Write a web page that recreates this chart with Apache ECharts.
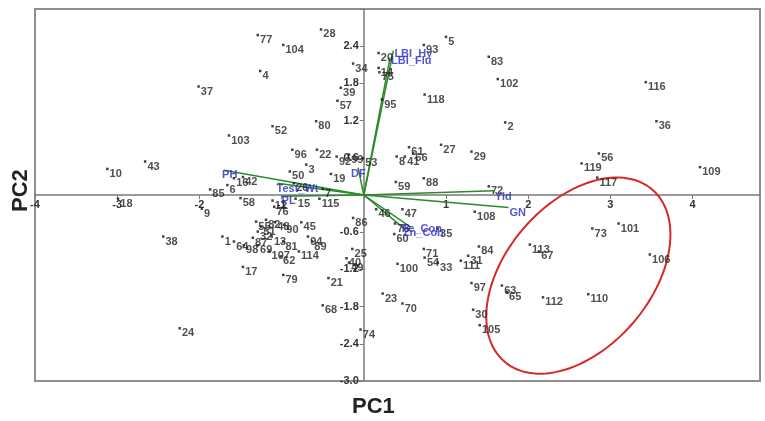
<!DOCTYPE html>
<html>
<head>
<meta charset="utf-8">
<title>PCA biplot</title>
<script src="https://cdn.jsdelivr.net/npm/echarts@6/dist/echarts.min.js"></script>
<style>
html, body { margin: 0; padding: 0; background: #fff; }
#chart { width: 765px; height: 421px; }
</style>
</head>
<body>
<div id="chart"></div>
<script>
// genotype scores
var ids = ['37','77','104','28','4','34','39','57','80','52','20','14','75','95','93','5','83','102','118','2',
    '116','36','10','43','18','9','85','38','103','96','22','92','99','53','3','50','19','16','42','6',
    '26','7','58','15','115','12','76','82','45','86','46','55','51','48','90','32','13','81','94','89',
    '1','64','98','87','69','107','62','114','25','40','49','17','79','21','68','74','23','24','61','66',
    '8','41','27','29','59','88','72','47','108','78','60','35','71','84','31','111','54','33','100','113',
    '67','56','119','117','109','73','101','106','97','63','65','112','70','30','105','110'];
var pc1 = [-2.01,-1.29,-0.98,-0.52,-1.26,-0.13,-0.28,-0.32,-0.58,-1.11,0.18,0.18,0.19,0.22,0.73,1.00,1.52,1.63,0.74,1.72,
    3.43,3.56,-3.12,-2.66,-2.99,-1.97,-1.87,-2.44,-1.64,-0.87,-0.57,-0.33,-0.18,-0.01,-0.70,-0.90,-0.40,-1.58,-1.47,-1.66,
    -0.85,-0.50,-1.50,-0.83,-0.54,-1.11,-1.09,-1.19,-0.76,-0.13,0.15,-1.31,-1.25,-1.08,-0.97,-1.29,-1.12,-0.98,-0.68,-0.63,
    -1.72,-1.58,-1.46,-1.35,-1.29,-1.15,-1.01,-0.79,-0.14,-0.21,-0.18,-1.47,-0.98,-0.43,-0.50,-0.04,0.23,-2.24,0.55,0.60,
    0.40,0.50,0.94,1.31,0.39,0.73,1.52,0.47,1.35,0.38,0.37,0.90,0.73,1.40,1.27,1.18,0.74,0.90,0.41,2.02,
    2.13,2.86,2.65,2.84,4.09,2.78,3.10,3.48,1.31,1.68,1.74,2.18,0.47,1.33,1.41,2.73];
var pc2 = [1.75,2.58,2.42,2.67,2.00,2.12,1.73,1.52,1.19,1.11,2.29,2.05,1.98,1.54,2.42,2.55,2.23,1.87,1.62,1.17,
    1.82,1.19,0.42,0.54,-0.06,-0.22,0.09,-0.67,0.96,0.73,0.73,0.62,0.65,0.59,0.49,0.38,0.34,0.27,0.29,0.16,
    0.19,0.10,-0.05,-0.06,-0.06,-0.09,-0.19,-0.40,-0.44,-0.37,-0.23,-0.43,-0.51,-0.44,-0.48,-0.59,-0.67,-0.75,-0.67,-0.75,
    -0.67,-0.75,-0.81,-0.69,-0.81,-0.91,-0.99,-0.91,-0.87,-1.02,-1.09,-1.16,-1.29,-1.34,-1.78,-2.17,-1.59,-2.15,0.77,0.67,
    0.62,0.62,0.81,0.70,0.21,0.27,0.14,-0.23,-0.27,-0.46,-0.63,-0.54,-0.87,-0.83,-0.98,-1.06,-1.01,-1.09,-1.11,-0.80,
    -0.91,0.67,0.51,0.28,0.45,-0.54,-0.46,-0.96,-1.42,-1.46,-1.57,-1.65,-1.75,-1.85,-2.10,-1.60];

// trait loadings (vector end points)
var traitNames = ['LBI_Hy','LBI_Flu','DF','PH','Test_Wt','PL','Yld','GN','Fe_Con','Zn_Con'];
var traitX = [0.36, 0.32, -0.07, -1.70, -1.05, -1.00, 1.58, 1.76, 0.57, 0.50];
var traitY = [2.33, 2.22, 0.44, 0.40, 0.19, -0.02, 0.07, -0.20, -0.52, -0.55];

// highlighted group: centre (PC1, PC2), half axes in PC1 units, tilt in degrees
var groupCentre = [2.61, -1.30];
var groupAxes = [1.38, 0.88];
var groupTilt = 49.3;

var xMin = -4, xMax = 4.82, yMin = -3, yMax = 3;
var gridBox = { left: 35, right: 5, top: 9, bottom: 40 };
var W = 765, H = 421;
var font = 'Liberation Sans, Arial, sans-serif';

// put both axes through the origin (labels and ticks too)
var plotW = W - gridBox.left - gridBox.right;
var plotH = H - gridBox.top - gridBox.bottom;
var yAxisShift = -(0 - xMin) / (xMax - xMin) * plotW;
var xAxisShift = -(0 - yMin) / (yMax - yMin) * plotH;

var points = ids.map(function (id, i) { return [pc1[i], pc2[i], id]; });

var labelOffsets = {
    'LBI_Hy': [0, 3], 'LBI_Flu': [0, 4], 'DF': [-8, 6], 'PH': [-3, 5], 'Test_Wt': [-2, 6],
    'PL': [-1, 5], 'Yld': [0, 6], 'GN': [0, 6], 'Fe_Con': [-10, 2], 'Zn_Con': [-3, 4]
};

var series = [];
traitNames.forEach(function (name, i) {
    series.push({
        name: name,
        type: 'line',
        data: [[0, 0], [traitX[i], traitY[i]]],
        showSymbol: false,
        symbol: 'none',
        silent: true,
        lineStyle: { color: '#2b8a2b', width: 1.5 },
        z: 3
    });
});

series.push({
    type: 'scatter',
    data: traitNames.map(function (name, i) {
        return {
            value: [traitX[i], traitY[i], name],
            label: { offset: labelOffsets[name] }
        };
    }),
    symbolSize: 0,
    silent: true,
    label: {
        show: true,
        position: 'right',
        distance: 1,
        formatter: function (p) { return p.value[2]; },
        color: '#2b2bc4',
        fontFamily: font,
        fontWeight: 'bold',
        fontSize: 11
    },
    z: 5
});

series.push({
    type: 'scatter',
    data: points,
    symbol: 'rect',
    symbolSize: 2.5,
    itemStyle: { color: '#111' },
    silent: true,
    label: {
        show: true,
        position: 'right',
        distance: 1,
        offset: [0, 5],
        formatter: function (p) { return p.value[2]; },
        color: '#222',
        fontFamily: font,
        fontWeight: 'bold',
        fontSize: 11
    },
    z: 4
});

series.push({
    type: 'custom',
    data: [groupCentre],
    silent: true,
    renderItem: function (params, api) {
        var c = api.coord([api.value(0), api.value(1)]);
        var unit = api.size([1, 0])[0];
        var a = groupAxes[0] * unit, b = groupAxes[1] * unit;
        var th = groupTilt * Math.PI / 180;
        var cs = Math.cos(th), sn = Math.sin(th);
        var pts = [];
        for (var k = 0; k < 120; k++) {
            var t = k / 120 * Math.PI * 2;
            var ex = a * Math.cos(t), ey = b * Math.sin(t);
            pts.push([c[0] + ex * cs - ey * sn, c[1] - (ex * sn + ey * cs)]);
        }
        return {
            type: 'polygon',
            shape: { points: pts },
            style: { fill: 'none', stroke: '#d42a2a', lineWidth: 2 }
        };
    },
    z: 2
});

var myChart = echarts.init(document.getElementById('chart'));
myChart.setOption({
    animation: false,
    grid: {
        left: gridBox.left, right: gridBox.right, top: gridBox.top, bottom: gridBox.bottom,
        show: true, borderColor: '#8f8f8f', borderWidth: 2
    },
    xAxis: {
        type: 'value',
        min: xMin, max: xMax, interval: 1,
        offset: xAxisShift,
        splitLine: { show: false },
        axisLine: { onZero: false, lineStyle: { color: '#7a7a7a', width: 1.5 } },
        axisTick: { length: 4, lineStyle: { color: '#7a7a7a' } },
        axisLabel: {
            margin: 4,
            showMaxLabel: false,
            color: '#333', fontFamily: font, fontWeight: 'bold', fontSize: 11,
            formatter: function (v) { return Math.abs(v) < 1e-9 ? '' : String(Math.round(v)); }
        }
    },
    yAxis: {
        type: 'value',
        min: yMin, max: yMax, interval: 0.6,
        offset: yAxisShift,
        splitLine: { show: false },
        axisLine: { onZero: false, lineStyle: { color: '#7a7a7a', width: 1.5 } },
        axisTick: { length: 4, lineStyle: { color: '#7a7a7a' } },
        axisLabel: {
            margin: 5,
            color: '#333', fontFamily: font, fontWeight: 'bold', fontSize: 11,
            formatter: function (v) {
                if (Math.abs(v) < 1e-9 || v > 2.9) return '';
                return v.toFixed(1);
            }
        }
    },
    graphic: [
        { type: 'text', left: 352, top: 396, style: { text: 'PC1', font: 'bold 22px ' + font, fill: '#222' } },
        { type: 'text', x: 10, y: 212, rotation: Math.PI / 2, style: { text: 'PC2', font: 'bold 22px ' + font, fill: '#222' } }
    ],
    series: series
});

addEventListener('resize', myChart.resize);
</script>
</body>
</html>
